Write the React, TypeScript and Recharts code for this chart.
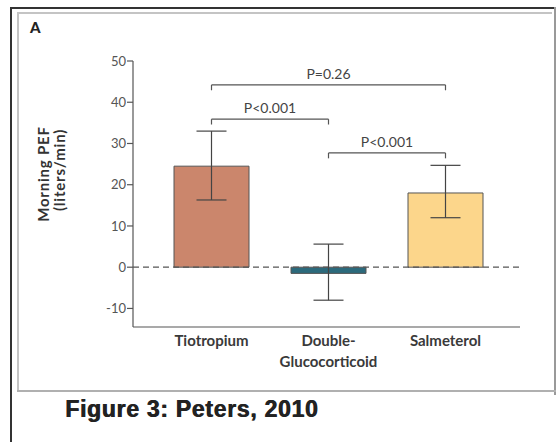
import React from 'react';
import { BarChart, Bar, XAxis, YAxis, ReferenceLine, ErrorBar, Cell } from 'recharts';

const categories = ['Tiotropium', 'Double-Glucocorticoid', 'Salmeterol'];
const categoryLines = [['Tiotropium'], ['Double-', 'Glucocorticoid'], ['Salmeterol']];
const means = [24.5, -1.5, 18];
const ciLow = [16.3, -8, 12];
const ciHigh = [33, 5.6, 24.7];
const barColors = ['#cb866c', '#2c6a7c', '#fcd68b'];
const yTicks = [-10, 0, 10, 20, 30, 40, 50];
const brackets = [
  { from: 'Tiotropium', to: 'Salmeterol', y: 44.2, label: 'P=0.26' },
  { from: 'Tiotropium', to: 'Double-Glucocorticoid', y: 35.9, label: 'P<0.001' },
  { from: 'Double-Glucocorticoid', to: 'Salmeterol', y: 27.7, label: 'P<0.001' },
];
const tip = 1.3;

const data = categories.map((c, i) => ({
  name: c,
  value: means[i],
  err: [means[i] - ciLow[i], ciHigh[i] - means[i]],
}));

const FONT = 'Lato, "Open Sans", sans-serif';

const CatTick = (props: any) => {
  const { x, y, index } = props;
  const lines = categoryLines[index] || [];
  return (
    <g>
      {lines.map((l, i) => (
        <text key={i} x={x} y={y + 19 + i * 21} textAnchor="middle" fontFamily={FONT} fontWeight={700} fontSize={15} fill="#3a3a3a">
          {l}
        </text>
      ))}
    </g>
  );
};

const yLabelStyle: React.CSSProperties = {
  position: 'absolute',
  transform: 'translate(-50%, -50%) rotate(-90deg)',
  fontFamily: FONT,
  fontWeight: 700,
  fontSize: 15,
  letterSpacing: 0.8,
  color: '#333',
  whiteSpace: 'nowrap',
  lineHeight: 1,
};

export default function App() {
  return (
    <div style={{ position: 'absolute', left: 0, top: 0, width: 557, height: 442, background: '#fff', overflow: 'hidden' }}>
      {/* frame */}
      <div style={{ position: 'absolute', left: 10, top: 7, width: 2, height: 435, background: '#333' }} />
      <div style={{ position: 'absolute', left: 10, top: 7, width: 546, height: 2, background: '#333' }} />
      <div style={{ position: 'absolute', left: 554, top: 7, width: 2, height: 388, background: '#999' }} />
      <div style={{ position: 'absolute', left: 17, top: 12, width: 2, height: 380, background: '#c4c4c4' }} />
      <div style={{ position: 'absolute', left: 17, top: 12, width: 535, height: 2, background: '#c4c4c4' }} />
      <div style={{ position: 'absolute', left: 17, top: 390, width: 539, height: 2, background: '#b0b0b0' }} />
      <div style={{ position: 'absolute', left: 30, top: 18, fontFamily: FONT, fontWeight: 900, fontSize: 15, color: '#222' }}>A</div>
      <div
        style={{
          position: 'absolute',
          left: 65,
          top: 396,
          fontFamily: 'Arial, "Liberation Sans", sans-serif',
          fontWeight: 700,
          fontSize: 23,
          letterSpacing: 0.7,
          color: '#222',
          whiteSpace: 'nowrap',
          textShadow: '0.7px 0 0 #222',
        }}
      >
        Figure 3: Peters, 2010
      </div>
      {/* y label */}
      <div style={{ ...yLabelStyle, left: 43, top: 174 }}>Morning PEF</div>
      <div style={{ ...yLabelStyle, left: 59, top: 170 }}>(liters/min)</div>
      <div style={{ position: 'absolute', left: 0, top: 0 }}>
        <BarChart width={557} height={442} data={data} margin={{ top: 61, right: 37, bottom: 85, left: 93 }}>
          <XAxis
            dataKey="name"
            height={30}
            axisLine={{ stroke: '#555', strokeWidth: 1.2 }}
            tickLine={false}
            tickSize={0}
            tickMargin={0}
            padding={{ left: 20, right: 16 }}
            tick={<CatTick />}
            interval={0}
          />
          <YAxis
            width={40}
            domain={[-14.5, 50]}
            ticks={yTicks}
            axisLine={{ stroke: '#555', strokeWidth: 1.2 }}
            tickLine={{ stroke: '#555', strokeWidth: 1.2 }}
            tickSize={6}
            tickMargin={1}
            tick={{ fontFamily: FONT, fontSize: 13, fill: '#555' }}
            allowDataOverflow
          />
          <ReferenceLine y={0} stroke="#555" strokeWidth={1.2} strokeDasharray="6 4" />
          <Bar dataKey="value" barSize={75} stroke="#555" strokeWidth={1} isAnimationActive={false}>
            {data.map((d, i) => (
              <Cell key={i} fill={barColors[i]} />
            ))}
            <ErrorBar dataKey="err" width={15} stroke="#444" strokeWidth={1.2} direction="y" />
          </Bar>
          {brackets.map((b, i) => (
            <ReferenceLine
              key={'h' + i}
              segment={[{ x: b.from, y: b.y }, { x: b.to, y: b.y }]}
              stroke="#555"
              strokeWidth={1.2}
              ifOverflow="visible"
              label={{ value: b.label, position: 'top', offset: 6, fontFamily: FONT, fontSize: 14, fill: '#444' }}
            />
          ))}
          {brackets.map((b, i) => (
            <ReferenceLine
              key={'l' + i}
              segment={[{ x: b.from, y: b.y }, { x: b.from, y: b.y - tip }]}
              stroke="#555"
              strokeWidth={1.2}
              ifOverflow="visible"
            />
          ))}
          {brackets.map((b, i) => (
            <ReferenceLine
              key={'r' + i}
              segment={[{ x: b.to, y: b.y }, { x: b.to, y: b.y - tip }]}
              stroke="#555"
              strokeWidth={1.2}
              ifOverflow="visible"
            />
          ))}
        </BarChart>
      </div>
    </div>
  );
}
